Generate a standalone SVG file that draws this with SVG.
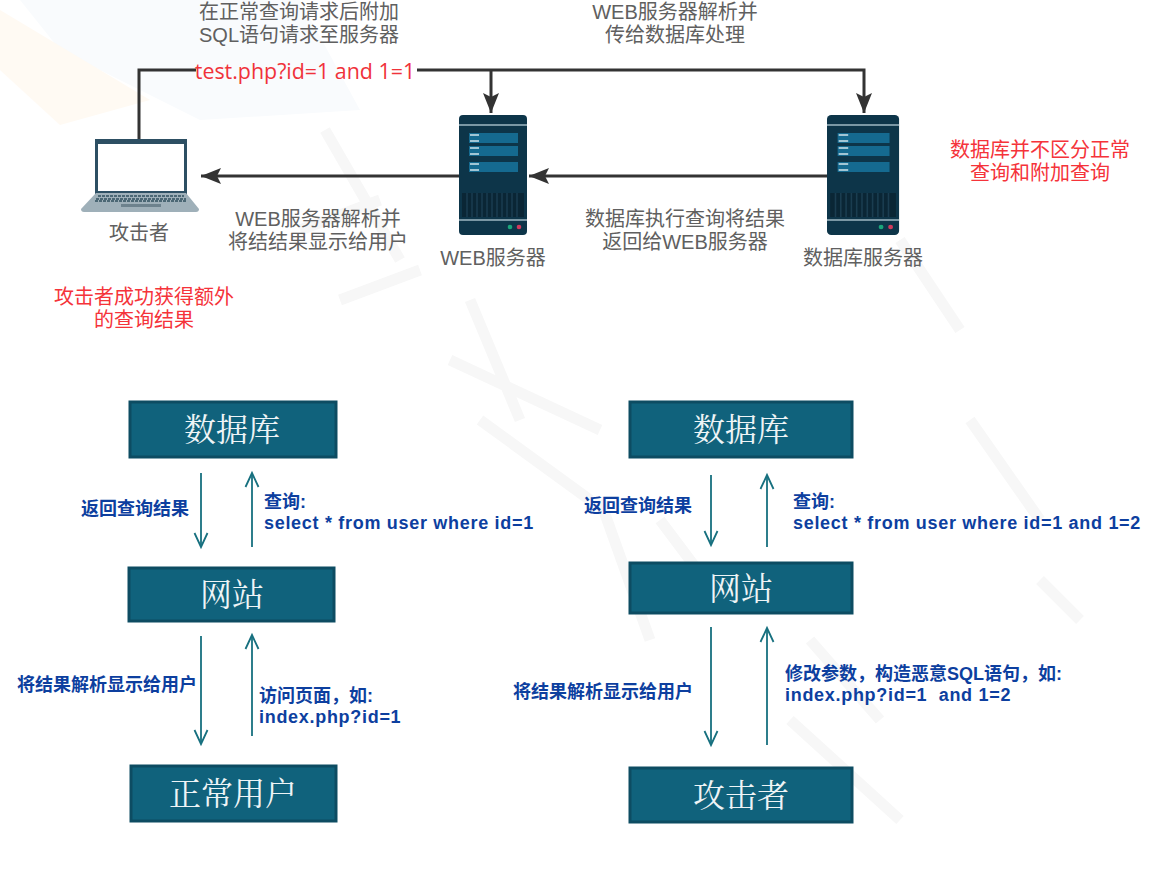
<svg xmlns="http://www.w3.org/2000/svg" width="1171" height="887" viewBox="0 0 1171 887">
<style>
text{font-family:"Liberation Sans","Noto Sans CJK SC",sans-serif;text-anchor:middle}
.g{font-size:20px;fill:#606060}
.r{font-size:20px;fill:#f5333a}
.u{font-family:"Open Sans","Noto Sans CJK SC",sans-serif;font-size:21.400px;fill:#f0323a}
.b{font-size:18px;font-weight:700;fill:#0d3f9f;text-anchor:start}
.l{letter-spacing:.7px}
.n{font-size:32px;fill:#eef4f6;font-family:"Liberation Serif","Noto Serif CJK SC","Noto Sans CJK SC",serif}
.box{fill:#10627c;stroke:#0d4c62;stroke-width:3}
.k{fill:none;stroke:#333;stroke-width:3}
.t{fill:none;stroke:#17707f;stroke-width:1.800}
.wm{fill:none;stroke:#f7f7f7;stroke-width:11}
</style>
<defs>
<marker id="ah" markerUnits="userSpaceOnUse" markerWidth="22" markerHeight="20" refX="20" refY="10" orient="auto"><path d="M0 2L20 10L0 18L4 10Z" fill="#333"/></marker>
<marker id="oa" markerUnits="userSpaceOnUse" markerWidth="18" markerHeight="18" refX="15" refY="8" orient="auto"><path d="M1 1.500L15 8L1 14.500" fill="none" stroke="#17707f" stroke-width="1.800"/></marker>
<g id="srv">
<rect x="0" y="0" width="68" height="120" rx="4" fill="#0d3549"/>
<path d="M0 10H68M0 105H68" stroke="#9fb8c2" stroke-width="1.500"/>
<rect x="10" y="18" width="49" height="10" fill="#156a90"/><rect x="10" y="31" width="49" height="10" fill="#156a90"/><rect x="10" y="47" width="49" height="10" fill="#156a90"/>
<path d="M11 20H20M11 26H20M11 33H20M11 39H20M11 49H20M11 55H20" stroke="#cfe3ea" stroke-width="1.500"/>
<rect x="3" y="78" width="62" height="24" fill="#0a2635"/>
<path d="M8 78V102M13 78V102M18 78V102M23 78V102M28 78V102M33 78V102M38 78V102M43 78V102M48 78V102M53 78V102M58 78V102" stroke="#1a3d50" stroke-width="1.500"/>
<circle cx="51" cy="112" r="2.300" fill="#1aa57a"/><circle cx="60" cy="112" r="2.300" fill="#d13a5c"/>
</g>
</defs>
<rect width="1171" height="887" fill="#fff"/>
<g id="watermark">
<path d="M20 0H300L360 110L200 120L60 50Z" fill="#f9fbfd"/>
<path d="M0 10L150 100L60 125L0 70Z" fill="#fffaf3"/>
<path class="wm" d="M325 130L400 260M300 230L380 200M340 300L420 270M470 300L520 420M450 360L600 430M480 420L590 500M600 500L650 640M660 520L720 600M810 640L880 720M790 720L900 820M900 240L960 330M970 420L1040 520M1040 580L1080 620"/>
</g>
<g id="connectors">
<path class="k" d="M139 139V70H196"/>
<path class="k" d="M417 70H864V113" marker-end="url(#ah)"/>
<path class="k" d="M491 70V113" marker-end="url(#ah)"/>
<path class="k" d="M459 176H201" marker-end="url(#ah)"/>
<path class="k" d="M827 176H529" marker-end="url(#ah)"/>
<path class="t" d="M201 473V547" marker-end="url(#oa)"/>
<path class="t" d="M252 547V473" marker-end="url(#oa)"/>
<path class="t" d="M201 636V744" marker-end="url(#oa)"/>
<path class="t" d="M252 736V635" marker-end="url(#oa)"/>
<path class="t" d="M711 475V545" marker-end="url(#oa)"/>
<path class="t" d="M767 547V475" marker-end="url(#oa)"/>
<path class="t" d="M711 627V745" marker-end="url(#oa)"/>
<path class="t" d="M767 745V628" marker-end="url(#oa)"/>
</g>
<g id="attacker-laptop">
<rect x="95" y="139" width="92" height="60" fill="#2d4f63"/>
<rect x="98" y="144" width="86" height="47" fill="#fff"/>
<path d="M96 193H186L199 209Q199 212 196 212H84Q81 212 81 209Z" fill="#9fb0b9"/>
<path d="M98 196H184M96 199H186M95 201H187" stroke="#32505f" stroke-width="1.500" stroke-dasharray="3 1"/>
<rect x="121" y="204" width="40" height="3" fill="#6d828d"/>
<text class="g" x="139" y="240">攻击者</text>
</g>
<g id="web-server"><use href="#srv" x="459" y="115"/><text class="g" x="493" y="265">WEB服务器</text></g>
<g id="db-server"><use href="#srv" transform="translate(827 115) scale(1.060 1)"/><text class="g" x="863" y="265">数据库服务器</text></g>
<g id="labels">
<text class="g" x="299" y="19">在正常查询请求后附加<tspan x="299" dy="23">SQL语句请求至服务器</tspan></text>
<text class="u" x="305" y="79">test.php?id=1 and 1=1</text>
<text class="g" x="675" y="19">WEB服务器解析并<tspan x="675" dy="23">传给数据库处理</tspan></text>
<text class="g" x="318" y="226">WEB服务器解析并<tspan x="318" dy="23">将结结果显示给用户</tspan></text>
<text class="g" x="685" y="226">数据库执行查询将结果<tspan x="685" dy="23">返回给WEB服务器</tspan></text>
<text class="r" x="1040" y="157">数据库并不区分正常<tspan x="1040" dy="23">查询和附加查询</tspan></text>
<text class="r" x="144" y="304">攻击者成功获得额外<tspan x="144" dy="23">的查询结果</tspan></text>
</g>
<g id="n1"><rect class="box" x="130" y="402" width="206" height="55"/><text class="n" x="232" y="441">数据库</text></g>
<g id="n2"><rect class="box" x="129" y="568" width="205" height="53"/><text class="n" x="232" y="606">网站</text></g>
<g id="n3"><rect class="box" x="131" y="766" width="205" height="55"/><text class="n" x="233" y="805">正常用户</text></g>
<g id="n4"><rect class="box" x="630" y="402" width="222" height="55"/><text class="n" x="741" y="441">数据库</text></g>
<g id="n5"><rect class="box" x="630" y="563" width="222" height="50"/><text class="n" x="741" y="600">网站</text></g>
<g id="n6"><rect class="box" x="630" y="768" width="222" height="54"/><text class="n" x="741" y="807">攻击者</text></g>
<g id="notes">
<text class="b" x="81" y="515">返回查询结果</text>
<text class="b" x="264" y="508">查询:<tspan class="l" x="264" dy="21">select * from user where id=1</tspan></text>
<text class="b" x="17" y="691">将结果解析显示给用户</text>
<text class="b" x="259" y="702">访问页面，如:<tspan class="l" x="259" dy="21">index.php?id=1</tspan></text>
<text class="b" x="584" y="512">返回查询结果</text>
<text class="b" x="793" y="508">查询:<tspan class="l" x="793" dy="21">select * from user where id=1 and 1=2</tspan></text>
<text class="b" x="513" y="698">将结果解析显示给用户</text>
<text class="b" x="785" y="680" xml:space="preserve">修改参数，构造恶意SQL语句，如:<tspan class="l" x="785" dy="21">index.php?id=1  and 1=2</tspan></text>
</g>
</svg>
